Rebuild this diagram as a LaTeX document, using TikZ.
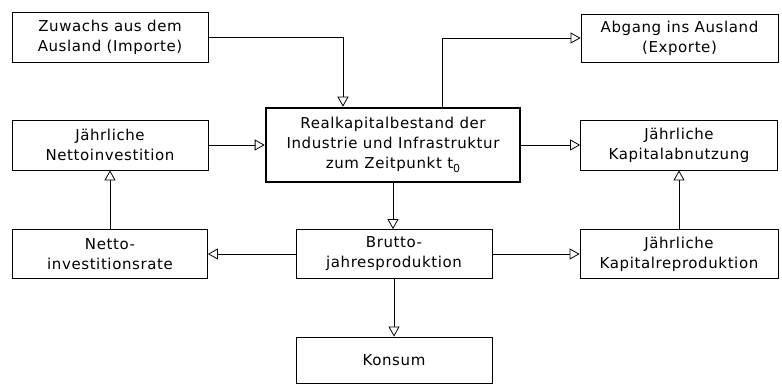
\documentclass[tikz,border=0pt]{standalone}
\usepackage{fontspec}
\setmainfont{DejaVu Sans}[LetterSpace=4]
\usetikzlibrary{arrows.meta}
\tikzset{
	box/.style={draw, line width=0.8pt, align=center, inner sep=0pt, font=\fontsize{15}{20}\selectfont},
	bigbox/.style={box, line width=2.6pt},
	arr/.style={line width=0.8pt, -{Triangle[open, length=10pt, width=11pt, line width=0.8pt]}}
}
\newcommand{\tnull}{t\raisebox{-0.45ex}{\fontsize{11}{11}\selectfont 0}}

\begin{document}
\begin{tikzpicture}[x=1pt, y=-1pt]
		%%%%% START %%%%%
		
		\useasboundingbox (0, 0) rectangle (782, 385);
		
		\node[box, minimum width=196pt, minimum height=50pt] (zuwachs) at (110, 37) {Zuwachs aus dem\\Ausland (Importe)};
		\node[box, minimum width=197pt, minimum height=48pt] (abgang) at (679.5, 38) {Abgang ins Ausland\\(Exporte)};
		
		\node[bigbox, minimum width=254pt, minimum height=74pt] (real) at (393, 145) {Realkapitalbestand der\\Industrie und Infrastruktur\\zum Zeitpunkt \tnull};
		\node[box, minimum width=196pt, minimum height=50pt] (netinv) at (110, 145) {Jährliche\\Nettoinvestition};
		\node[box, minimum width=197pt, minimum height=50pt] (abnutz) at (679, 145) {Jährliche\\Kapitalabnutzung};
		
		\node[box, minimum width=195pt, minimum height=49pt] (rate) at (110, 254) {Netto-\\investitionsrate};
		\node[box, minimum width=196pt, minimum height=49pt] (brutto) at (394, 254) {Brutto-\\jahresproduktion};
		\node[box, minimum width=198pt, minimum height=49pt] (reprod) at (679, 254) {Jährliche\\Kapitalreproduktion};
		
		\node[box, minimum width=196pt, minimum height=46pt] (konsum) at (394, 360) {Konsum};
		
		\draw[arr] (zuwachs.east) -| ([xshift=-50pt]real.north);
		\draw[arr] ([xshift=49pt]real.north) |- (abgang.west);
		\draw[arr] (netinv.east) -- (real.west);
		\draw[arr] (real.east) -- (abnutz.west);
		\draw[arr] (rate.north) -- (netinv.south);
		\draw[arr] (real.south) -- (real.south |- brutto.north);
		\draw[arr] (brutto.west) -- (rate.east);
		\draw[arr] (brutto.east) -- (reprod.west);
		\draw[arr] (reprod.north) -- (abnutz.south);
		\draw[arr] (brutto.south) -- (konsum.north);
		
		%%%%% END %%%%%
	\end{tikzpicture}
\end{document}
